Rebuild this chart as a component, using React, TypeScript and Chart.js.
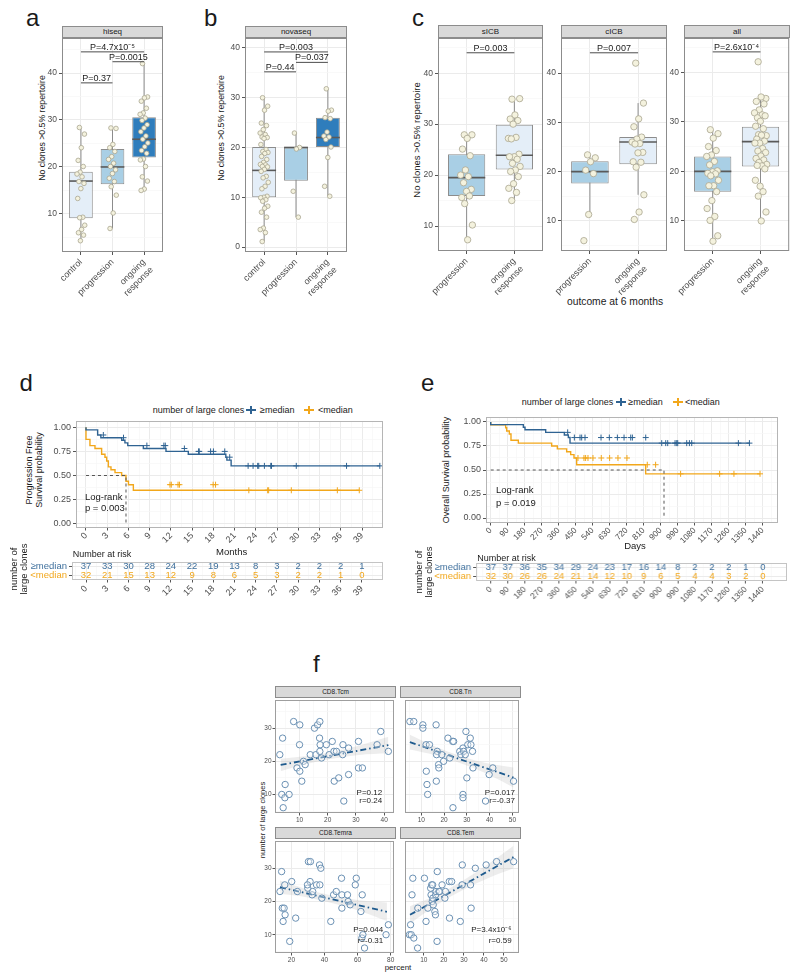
import React, { useEffect, useRef } from 'react';
import { Chart, registerables } from 'chart.js';

const FONT = '"Liberation Sans", Arial, Helvetica, sans-serif';
const BLUE = '#2f6392';
const ORANGE = '#f2a71b';
const TBLUE = '#3f709d';

/* ======================= DATA ======================= */
// ---- Panel a : hiseq ----
const abcGroups = ['control', 'progression', 'ongoing response'];
const hiseqControl = [28.4, 27.0, 24.1, 21.4, 20.1, 18.9, 18.5, 17.9, 16.9, 16.5, 15.4, 13.3, 9.3, 9.2, 7.6, 6.7, 6.0, 5.5, 4.3];
const hiseqProgression = [28.3, 28.2, 24.8, 24.1, 23.3, 22.2, 21.6, 20.8, 20.1, 19.4, 18.6, 17.6, 16.9, 15.8, 14.0, 10.2, 6.9];
const hiseqOngoing = [42.0, 34.9, 34.7, 34.0, 32.5, 31.5, 31.2, 30.4, 29.9, 29.0, 28.3, 27.5, 26.6, 25.9, 25.1, 24.3, 23.5, 22.9, 21.7, 21.5, 20.1, 17.9, 17.0, 15.3, 15.0];
// [lower whisker, Q1, median, Q3, upper whisker]
const hiseqControlBox = [4.3, 9.1, 17.0, 19.0, 28.4];
const hiseqProgressionBox = [6.9, 16.3, 20.0, 23.8, 28.3];
const hiseqOngoingBox = [15.0, 22.0, 25.9, 30.6, 42.0];
const hiseqPText = ['P=0.37', 'P=4.7x10⁻⁵', 'P=0.0015'];
const hiseqPFrom = [1, 1, 2];
const hiseqPTo = [2, 3, 3];
const hiseqPY = [37.9, 44.5, 42.4];

// ---- Panel b : novaseq ----
const novaControl = [30.0, 28.3, 27.5, 24.9, 24.4, 23.6, 22.9, 22.6, 22.1, 22.0, 21.8, 20.6, 19.6, 19.2, 19.0, 18.8, 18.2, 17.6, 17.0, 16.6, 16.5, 16.2, 16.1, 15.6, 15.2, 14.2, 13.9, 13.0, 12.2, 11.7, 10.2, 10.0, 9.9, 9.5, 9.2, 8.2, 7.8, 7.0, 6.0, 3.8, 3.5, 2.9, 1.1];
const novaProgression = [22.9, 20.0, 19.7, 11.2, 6.0];
const novaOngoing = [31.8, 27.5, 27.3, 26.0, 25.8, 23.1, 22.3, 22.1, 21.6, 20.1, 18.0, 12.2, 10.2];
const novaControlBox = [1.1, 10.0, 15.4, 20.1, 30.0];
const novaProgressionBox = [6.0, 13.3, 20.0, 20.0, 22.9];
const novaOngoingBox = [10.2, 20.1, 22.0, 26.0, 31.8];
const novaPText = ['P=0.44', 'P=0.003', 'P=0.037'];
const novaPFrom = [1, 1, 2];
const novaPTo = [2, 3, 3];
const novaPY = [35.2, 39.2, 37.1];

// ---- Panel c : outcome at 6 months ----
const cGroups = ['progression', 'ongoing response'];
const sicbProgression = [27.9, 27.9, 27.2, 25.1, 23.8, 21.0, 20.0, 19.7, 18.5, 17.2, 16.8, 15.6, 15.9, 14.4, 10.2, 7.3];
const sicbOngoing = [34.9, 35.0, 31.8, 31.0, 30.7, 30.0, 27.2, 27.4, 27.1, 24.1, 23.6, 23.6, 23.1, 22.3, 21.7, 21.0, 20.7, 19.7, 18.3, 17.4, 16.6, 15.0];
const sicbProgressionBox = [7.3, 15.9, 19.5, 24.1, 27.9];
const sicbOngoingBox = [15.0, 21.1, 23.9, 29.9, 35.0];
const cicbProgression = [23.4, 22.8, 22.0, 20.3, 19.6, 11.3, 6.0];
const cicbOngoing = [42.0, 33.9, 30.7, 29.1, 27.0, 26.6, 26.0, 25.7, 25.6, 23.9, 23.8, 22.0, 21.9, 20.9, 15.3, 11.8, 10.3];
const cicbProgressionBox = [11.3, 17.6, 20.0, 22.1, 23.4];
const cicbOngoingBox = [15.3, 21.5, 26.0, 27.0, 33.9];
const allProgression = [28.4, 27.6, 26.7, 25.0, 24.2, 23.3, 23.0, 22.0, 21.3, 20.1, 19.9, 19.6, 19.5, 19.1, 18.2, 17.1, 17.1, 15.9, 14.1, 12.5, 10.9, 10.1, 7.0, 5.9];
const allOngoing = [42.1, 34.7, 35.0, 34.1, 33.6, 32.4, 31.8, 31.4, 30.8, 31.2, 30.1, 29.1, 28.6, 27.4, 27.2, 27.3, 26.5, 26.1, 25.7, 25.7, 24.6, 24.1, 23.8, 23.1, 22.6, 22.3, 21.8, 21.4, 21.1, 21.2, 20.5, 17.0, 18.2, 15.9, 15.0, 11.8, 10.0];
const allProgressionBox = [5.9, 15.9, 20.0, 23.0, 28.4];
const allOngoingBox = [10.0, 21.0, 26.0, 29.0, 35.0];
const cPText = ['P=0.003', 'P=0.007', 'P=2.6x10⁻⁴'];
const cPY = [44.0, 44.1, 44.1];

// ---- Panel d : PFS ----
const monthTicks = [0, 3, 6, 9, 12, 15, 18, 21, 24, 27, 30, 33, 36, 39];
const pfsHighTimes = [0, 1.65, 2.1, 5.05, 5.5, 5.9, 8.1, 11.3, 14.45, 19.75, 19.9, 20.5, 21.2, 41.5];
const pfsHighSurv = [1, 0.973, 0.92, 0.892, 0.865, 0.838, 0.81, 0.78, 0.75, 0.72, 0.69, 0.66, 0.6, 0.6];
const pfsHighCensor = [2.45, 5.3, 8.6, 11.0, 11.2, 13.9, 15.9, 16.0, 17.6, 18.0, 19.6, 20.3, 22.9, 23.6, 24.25, 24.4, 25.2, 26.1, 26.2, 29.7, 36.8, 41.5];
const pfsLowTimes = [0, 0.56, 1.27, 2.21, 2.68, 2.92, 3.16, 3.53, 4.1, 5.04, 5.65, 6.0, 6.69, 19.4, 38.6];
const pfsLowSurv = [1, 0.875, 0.81, 0.78, 0.72, 0.69, 0.65, 0.59, 0.56, 0.53, 0.5, 0.44, 0.405, 0.347, 0.347];
const pfsLowCensor = [11.86, 12.05, 13.0, 13.2, 17.96, 18.3, 23.0, 25.66, 25.8, 29.0, 35.5, 38.6];
const pfsMedianTime = 5.65;
const pfsRiskHigh = [37, 33, 30, 28, 24, 22, 19, 13, 8, 3, 2, 2, 2, 1];
const pfsRiskLow = [32, 21, 15, 13, 12, 9, 8, 6, 5, 3, 2, 2, 1, 0];

// ---- Panel e : OS ----
const dayTicks = [0, 90, 180, 270, 360, 450, 540, 630, 720, 810, 900, 990, 1080, 1170, 1260, 1350, 1440];
const osHighTimes = [0, 172.8, 181.6, 291, 389.8, 411, 419.8, 846.8, 1372.7];
const osHighSurv = [1, 0.973, 0.946, 0.919, 0.892, 0.865, 0.838, 0.78, 0.78];
const osHighCensor = [407.5, 442.8, 472.8, 481.6, 499.3, 584, 628, 670.6, 705.9, 741.2, 750, 820.6, 905.3, 926.5, 937, 975.9, 984.7, 990, 1037.6, 1051.8, 1064.1, 1311.2, 1369.5];
const osLowTimes = [0, 79.2, 84.5, 98.6, 107.4, 146.3, 322.7, 352.7, 402.1, 423.3, 440.9, 455, 820.3, 917.4, 1425.6];
const osLowSurv = [1, 0.97, 0.94, 0.906, 0.875, 0.81, 0.78, 0.75, 0.72, 0.69, 0.66, 0.625, 0.555, 0.46, 0.46];
const osLowCensor = [462, 493.7, 502.5, 514.9, 541.3, 585.4, 629.5, 673.6, 721.2, 828.8, 873, 1005.3, 1211.8, 1287.6, 1425.6];
const osMedianTime = 917.4;
const osRiskHigh = [37, 37, 36, 35, 34, 29, 24, 23, 17, 16, 14, 8, 2, 2, 2, 1, 0];
const osRiskLow = [32, 30, 26, 26, 24, 21, 14, 12, 10, 9, 6, 5, 4, 4, 3, 2, 0];

// ---- Panel f : correlations ----
const tcmX = [3.0, 4.0, 4.9, 3.7, 4.8, 4.2, 6.3, 7.9, 9.1, 10.1, 10.0, 10.1, 10.8, 11.4, 12.0, 13.8, 15.3, 15.8, 16.4, 17.2, 17.1, 17.3, 17.2, 17.8, 19.5, 20.5, 21.6, 22.2, 23.1, 22.3, 23.9, 25.3, 25.4, 25.7, 27.4, 27.4, 30.9, 30.9, 32.3, 37.5, 38.8, 41.5];
const tcmY = [22, 27, 13, 10, 9, 6, 10, 32, 18, 31, 25, 17, 14, 20, 19, 22, 30, 22, 31, 32, 27, 25, 23, 21, 25, 22, 26, 23, 23, 14, 15, 22, 25, 8, 24, 16, 26, 18, 18, 25, 29, 23];
const tcmFitX = [3.3, 41.5];
const tcmFitY = [18.9, 24.9];
const tcmBandX = [3.3, 12, 21, 31, 41.5];
const tcmBandLo = [17.0, 19.1, 20.7, 21.9, 22.4];
const tcmBandHi = [20.8, 21.5, 22.7, 24.7, 27.4];

const tnX = [5.0, 6.7, 10.7, 10.7, 12.1, 13.6, 12.2, 12.5, 12.8, 16.5, 17.0, 16.7, 17.6, 17.7, 16.6, 19.0, 19.8, 21.7, 22.5, 23.8, 24.2, 23.9, 26.9, 27.4, 28.3, 28.6, 29.6, 30.4, 31.5, 31.8, 32.5, 29.3, 30.0, 28.3, 28.3, 32.7, 38.2, 39.8, 41.4, 50.5];
const tnY = [32, 32, 31, 30, 25, 25, 17, 13, 10, 31, 23, 22, 19, 18, 14, 22, 20, 27, 21, 26, 26, 6, 23, 22, 24, 23, 29, 25, 27, 25, 23, 22, 15, 10, 9, 18, 8, 16, 18, 14];
const tnFitX = [5.0, 50.5];
const tnFitY = [25.8, 15.1];
const tnBandX = [5, 16, 27, 39, 50.5];
const tnBandLo = [23.6, 21.9, 19.5, 16.2, 12.1];
const tnBandHi = [28.0, 24.5, 21.7, 19.4, 18.1];

const temraX = [13.1, 14.1, 14.5, 15.0, 15.6, 16.0, 16.2, 19.0, 20.2, 22.6, 23.6, 29.9, 30.3, 31.5, 31.3, 29.7, 32.5, 32.9, 35.2, 37.0, 37.8, 37.2, 38.4, 43.8, 45.5, 47.1, 50.3, 50.5, 50.5, 53.9, 54.3, 55.5, 58.6, 59.2, 62.0, 62.8, 62.6, 63.2, 64.2, 77.2, 78.6];
const temraY = [23, 29, 18, 14, 18, 25, 16, 8, 26, 15, 23, 24, 32, 32, 26, 25, 22, 23, 25, 31, 30, 25, 21, 14, 22, 23, 27, 22, 18, 22, 20, 19, 25, 27, 17, 22, 9, 10, 6, 10, 13];
const temraFitX = [13.1, 77.7];
const temraFitY = [24.3, 16.9];
const temraBandX = [13.1, 29, 45, 61, 77.7];
const temraBandLo = [22.3, 21.3, 19.5, 17.2, 14.1];
const temraBandHi = [26.3, 23.7, 21.7, 20.4, 19.7];

const temX = [2.8, 3.4, 3.7, 4.1, 4.5, 5.0, 6.9, 7.0, 10.3, 11.1, 12.0, 13.4, 13.9, 14.4, 13.6, 14.2, 14.5, 14.7, 15.5, 15.8, 15.9, 16.1, 16.6, 16.7, 17.5, 17.9, 19.1, 20.5, 20.8, 22.7, 23.9, 22.8, 28.2, 29.2, 29.1, 33.3, 33.6, 35.7, 41.1, 46.3, 54.8];
const temY = [10, 13, 10, 22, 27, 9, 6, 18, 27, 14, 18, 24, 25, 25, 22, 20, 21, 19, 17, 16, 22, 23, 8, 29, 23, 23, 25, 21, 23, 26, 26, 15, 14, 31, 25, 25, 18, 30, 31, 32, 32];
const temFitX = [3.1, 54.8];
const temFitY = [16.0, 33.4];
const temBandX = [3.1, 16, 29, 42, 54.8];
const temBandLo = [13.4, 18.8, 23.3, 27.0, 30.0];
const temBandHi = [18.6, 21.8, 26.1, 31.2, 36.8];

const fStats = ['P=0.12', 'r=0.24', 'P=0.017', 'r=-0.37', 'P=0.044', 'r=-0.31', 'P=3.4x10⁻⁶', 'r=0.59'];

/* ======================= PLUGINS ======================= */
const textPlugin = {
  id: 'texts',
  afterDatasetsDraw(chart: any, _a: any, opts: any) {
    const items = opts && opts.items;
    if (!items) return;
    const ctx = chart.ctx;
    ctx.save();
    for (const t of items) {
      const px = chart.scales.x.getPixelForValue(t.x) + (t.dx || 0);
      const py = chart.scales.y.getPixelForValue(t.y) + (t.dy || 0);
      ctx.font = `${t.size || 9}px ${FONT}`;
      ctx.fillStyle = t.color || '#1a1a1a';
      ctx.textAlign = t.align || 'center';
      ctx.textBaseline = t.baseline || 'middle';
      ctx.fillText(t.text, px, py);
    }
    ctx.restore();
  },
};

const framePlugin = {
  id: 'frame',
  afterDraw(chart: any, _a: any, opts: any) {
    if (!opts || !opts.color) return;
    const a = chart.chartArea;
    const ctx = chart.ctx;
    ctx.save();
    ctx.strokeStyle = opts.color;
    ctx.lineWidth = 1;
    ctx.strokeRect(a.left + 0.5, a.top + 0.5, a.right - a.left - 1, a.bottom - a.top - 1);
    ctx.restore();
  },
};

Chart.register(...registerables, textPlugin, framePlugin);

/* ======================= HELPERS ======================= */
function mids(arr: number[], min: number, max: number) {
  const step = arr[1] - arr[0];
  const out: number[] = [];
  for (let v = arr[0] - step / 2; v <= arr[arr.length - 1] + step; v += step) {
    if (v > min && v < max) out.push(v);
  }
  return out;
}

function jitterOffset(k: number, w: number) {
  const f = (k * 0.6180339887 + 0.31) % 1;
  return (f - 0.5) * 2 * w;
}

function survAt(T: number[], S: number[], t: number) {
  let v = S[0];
  for (let i = 0; i < T.length; i++) if (T[i] <= t) v = S[i];
  return v;
}

function axis(isX: boolean, a: any) {
  const major = new Set(a.major);
  const all = [...a.major, ...(a.minor || [])].sort((p: number, q: number) => p - q);
  const isMajor = (c: any) => c && c.tick && major.has(c.tick.value);
  return {
    type: 'linear',
    position: isX ? 'bottom' : 'left',
    min: a.min,
    max: a.max,
    bounds: 'data',
    reverse: !!a.reverse,
    offset: false,
    afterBuildTicks: (s: any) => {
      s.ticks = all.map((v: number) => ({ value: v }));
    },
    afterFit: (s: any) => {
      if (isX) s.height = a.fit;
      else s.width = a.fit;
      s.paddingLeft = 0;
      s.paddingRight = 0;
      s.paddingTop = 0;
      s.paddingBottom = 0;
    },
    grid: {
      display: true,
      offset: false,
      color: (c: any) => (isMajor(c) ? a.gridMajor || '#ebebeb' : a.gridMinor || '#f6f6f6'),
      lineWidth: (c: any) => (isMajor(c) ? 1 : 0.7),
      drawTicks: a.tickLen !== 0,
      tickLength: a.tickLen === undefined ? 3 : a.tickLen,
      tickWidth: 1,
      tickColor: (c: any) => (isMajor(c) ? '#555555' : 'rgba(0,0,0,0)'),
    },
    border: { display: false },
    ticks: {
      display: a.showLabels !== false,
      autoSkip: false,
      maxRotation: a.rotate || 0,
      minRotation: a.rotate || 0,
      padding: a.pad === undefined ? 2 : a.pad,
      color: a.color || '#4d4d4d',
      font: { family: FONT, size: a.size || 8 },
      callback: (v: number) => (major.has(v) ? (a.label ? a.label(v) : String(v)) : ''),
    },
  };
}

function basePlugins(items: any[], frame: string) {
  return { legend: { display: false }, tooltip: { enabled: false }, texts: { items }, frame: { color: frame } };
}

function boxConfig(o: any) {
  const n = o.names.length;
  const half = o.bw / 2;
  const ds: any[] = [];
  o.stats.forEach((s: number[], i: number) => {
    ds.push({ type: 'line', data: [{ x: i + 1, y: s[0] }, { x: i + 1, y: s[4] }], borderColor: '#8c8c8c', borderWidth: 1, pointRadius: 0, order: 9 });
  });
  ds.push({
    type: 'bar',
    data: o.stats.map((s: number[], i: number) => ({ x: i + 1, y: [s[1], s[3]] })),
    backgroundColor: o.fills,
    borderColor: '#8c8c8c',
    borderWidth: 1,
    borderSkipped: false,
    barPercentage: o.bw,
    categoryPercentage: 1,
    order: 8,
  });
  o.stats.forEach((s: number[], i: number) => {
    ds.push({ type: 'line', data: [{ x: i + 1 - half, y: s[2] }, { x: i + 1 + half, y: s[2] }], borderColor: '#5a5a5a', borderWidth: 1.6, pointRadius: 0, order: 7 });
  });
  o.points.forEach((p: number[], i: number) => {
    ds.push({
      type: 'scatter',
      data: p.map((v: number, k: number) => ({ x: i + 1 + jitterOffset(k, o.jw), y: v })),
      pointRadius: o.pr,
      backgroundColor: '#f4f2de',
      borderColor: '#a9a690',
      borderWidth: 0.8,
      order: 6,
    });
  });
  const items: any[] = [];
  o.pFrom.forEach((a: number, j: number) => {
    ds.push({ type: 'line', data: [{ x: a, y: o.pY[j] }, { x: o.pTo[j], y: o.pY[j] }], borderColor: '#4d4d4d', borderWidth: 1, pointRadius: 0, order: 1 });
    items.push({ x: (a + o.pTo[j]) / 2, y: o.pY[j], text: o.pText[j], size: 9, baseline: 'alphabetic', dy: -2 });
  });
  return {
    type: 'bar',
    data: { datasets: ds },
    options: {
      scales: {
        x: axis(true, { min: 0.4, max: n + 0.6, major: o.names.map((_: any, i: number) => i + 1), fit: o.xh, size: 9, rotate: 45, label: (v: number) => o.names[v - 1].split(' ') }),
        y: axis(false, { min: o.yMin, max: o.yMax, major: o.yMajor, minor: o.yMinor, fit: o.yw, size: 8.5 }),
      },
      plugins: basePlugins(items, '#8c8c8c'),
    },
  };
}

function kmConfig(o: any) {
  const step = (T: number[], S: number[]) => T.map((t, i) => ({ x: t, y: S[i] }));
  const cens = (T: number[], S: number[], C: number[]) => C.map((c) => ({ x: c, y: survAt(T, S, c) }));
  return {
    type: 'line',
    data: {
      datasets: [
        { data: step(o.lowT, o.lowS), stepped: 'after', borderColor: ORANGE, borderWidth: 1.4, pointRadius: 0, order: 5 },
        { data: step(o.highT, o.highS), stepped: 'after', borderColor: BLUE, borderWidth: 1.4, pointRadius: 0, order: 4 },
        { type: 'scatter', data: cens(o.lowT, o.lowS, o.lowC), pointStyle: 'cross', pointRadius: 3, borderColor: ORANGE, borderWidth: 1, order: 3 },
        { type: 'scatter', data: cens(o.highT, o.highS, o.highC), pointStyle: 'cross', pointRadius: 3, borderColor: BLUE, borderWidth: 1, order: 2 },
        { data: [{ x: 0, y: 0.5 }, { x: o.medT, y: 0.5 }, { x: o.medT, y: 0 }], borderColor: '#555555', borderWidth: 1, borderDash: [3, 3], pointRadius: 0, order: 1 },
      ],
    },
    options: {
      scales: {
        x: axis(true, { min: o.xMin, max: o.xMax, major: o.ticks, minor: mids(o.ticks, o.xMin, o.xMax), fit: o.xh, size: o.xSize, rotate: 45, pad: 0, tickLen: 2.5 }),
        y: axis(false, { min: o.yMin, max: o.yMax, major: [0, 0.25, 0.5, 0.75, 1], minor: [0.125, 0.375, 0.625, 0.875], fit: 30, size: 9, label: (v: number) => v.toFixed(2) }),
      },
      plugins: basePlugins(
        [
          { x: o.logX, y: o.logY1, text: 'Log-rank', align: 'left', size: 9.5 },
          { x: o.logX, y: o.logY2, text: o.pText, align: 'left', size: 9.5 },
        ],
        '#b5b5b5'
      ),
    },
  };
}

function riskConfig(o: any) {
  const items: any[] = [];
  o.times.forEach((t: number, i: number) => {
    items.push({ x: t, y: 1, text: String(o.high[i]), color: TBLUE, size: 9.5 });
    items.push({ x: t, y: 2, text: String(o.low[i]), color: ORANGE, size: 9.5 });
  });
  return {
    type: 'scatter',
    data: { datasets: [{ data: [] }] },
    options: {
      scales: {
        x: axis(true, { min: o.xMin, max: o.xMax, major: o.times, minor: mids(o.times, o.xMin, o.xMax), fit: o.xh, size: o.xSize, rotate: 45, pad: 1, tickLen: 2.5 }),
        y: axis(false, {
          min: 0.45,
          max: 2.5,
          reverse: true,
          major: [1, 2],
          fit: o.yw,
          size: 9.5,
          label: (v: number) => (v === 1 ? '≥median' : '<median'),
          color: (c: any) => (c.tick && c.tick.value === 1 ? TBLUE : ORANGE),
        }),
      },
      plugins: basePlugins(items, '#c4c4c4'),
    },
  };
}

function facetConfig(o: any) {
  const band = (ys: number[]) => o.bandX.map((x: number, i: number) => ({ x, y: ys[i] }));
  return {
    type: 'scatter',
    data: {
      datasets: [
        { type: 'line', data: band(o.bandHi), borderColor: 'rgba(0,0,0,0)', borderWidth: 1, pointRadius: 0, fill: false, cubicInterpolationMode: 'monotone', order: 5 },
        { type: 'line', data: band(o.bandLo), borderColor: 'rgba(0,0,0,0)', borderWidth: 1, pointRadius: 0, fill: '-1', backgroundColor: 'rgba(175,175,175,0.22)', cubicInterpolationMode: 'monotone', order: 4 },
        { type: 'line', data: o.fitX.map((x: number, i: number) => ({ x, y: o.fitY[i] })), borderColor: '#1f5b8e', borderWidth: 1.8, borderDash: [6, 3, 1.5, 3], pointRadius: 0, order: 3 },
        { data: o.px.map((x: number, i: number) => ({ x, y: o.py[i] })), pointRadius: 3.2, borderColor: '#6a90b3', backgroundColor: 'rgba(255,255,255,0.35)', borderWidth: 1, order: 1 },
      ],
    },
    options: {
      scales: {
        x: axis(true, { min: o.xMin, max: o.xMax, major: o.xMajor, minor: mids(o.xMajor, o.xMin, o.xMax), fit: 11, size: 6.5, tickLen: 2.5, pad: 1 }),
        y: axis(false, {
          min: o.yMin,
          max: o.yMax,
          major: [10, 20, 30],
          minor: [5, 15, 25, 35],
          fit: o.yLabels ? 13 : 0,
          size: 6.5,
          tickLen: o.yLabels ? 2.5 : 0,
          pad: 1,
          showLabels: o.yLabels,
        }),
      },
      plugins: basePlugins(
        [
          { x: o.tx, y: o.ty1, text: o.t1, align: 'right', size: 8 },
          { x: o.tx, y: o.ty2, text: o.t2, align: 'right', size: 8 },
        ],
        '#9e9e9e'
      ),
    },
  };
}

/* ======================= COMPONENTS ======================= */
function ChartCanvas({ geo, make }: any) {
  const ref = useRef<HTMLCanvasElement | null>(null);
  const tp = geo.tp === undefined ? 5 : geo.tp;
  const rp = geo.rp === undefined ? 5 : geo.rp;
  const left = geo.x0 - geo.yw;
  const top = geo.y0 - tp;
  const w = geo.x1 - left + rp;
  const h = geo.y1 - top + geo.xh;
  useEffect(() => {
    const cfg: any = make();
    cfg.options = Object.assign({}, cfg.options, {
      responsive: false,
      maintainAspectRatio: false,
      animation: false,
      devicePixelRatio: 1,
      events: [],
      layout: { padding: { top: tp, right: rp, left: 0, bottom: 0 } },
    });
    const c = new Chart(ref.current as HTMLCanvasElement, cfg);
    return () => c.destroy();
  }, []);
  return <canvas ref={ref} width={w} height={h} style={{ position: 'absolute', left, top, width: w, height: h }} />;
}

function T({ x, y, size, children, anchor = 'start', rotate = 0, color = '#1a1a1a', lh = 1.15, align = 'left' }: any) {
  const tx = anchor === 'middle' ? '-50%' : anchor === 'end' ? '-100%' : '0';
  return (
    <div
      style={{
        position: 'absolute',
        left: x,
        top: y,
        fontSize: size,
        lineHeight: lh,
        color,
        whiteSpace: 'pre',
        textAlign: align,
        transform: `translate(${tx}, -50%)${rotate ? ` rotate(${rotate}deg)` : ''}`,
      }}
    >
      {children}
    </div>
  );
}

function Strip({ x0, x1, y0, y1, text, size }: any) {
  return (
    <div
      style={{
        position: 'absolute',
        left: x0,
        top: y0,
        width: x1 - x0,
        height: y1 - y0,
        boxSizing: 'border-box',
        background: '#d9d9d9',
        border: '1px solid #8c8c8c',
        fontSize: size,
        lineHeight: `${y1 - y0 - 2}px`,
        textAlign: 'center',
        color: '#1a1a1a',
      }}
    >
      {text}
    </div>
  );
}

function Key({ x, y, color }: any) {
  const X = Math.round(x);
  const Y = Math.round(y);
  return (
    <>
      <div style={{ position: 'absolute', left: X, top: Y - 1, width: 10, height: 2, background: color }} />
      <div style={{ position: 'absolute', left: X + 4, top: Y - 4, width: 2, height: 8, background: color }} />
    </>
  );
}

/* ======================= APP ======================= */
export default function App() {
  const fillsABC = ['#e4eef8', '#a9cfe5', '#2f7dbc'];
  const fillsC = ['#a9cfe5', '#e4eef8'];
  return (
    <div style={{ position: 'absolute', left: 0, top: 0, width: 800, height: 980, overflow: 'hidden', background: '#ffffff', fontFamily: FONT, color: '#1a1a1a' }}>
      {/* panel letters */}
      <T x={26} y={17.7} size={24}>a</T>
      <T x={204} y={17.7} size={24}>b</T>
      <T x={412} y={18.4} size={24}>c</T>
      <T x={19.5} y={383.4} size={24}>d</T>
      <T x={421} y={383.4} size={24}>e</T>
      <T x={313} y={663.7} size={24}>f</T>

      {/* ---- a ---- */}
      <Strip x0={62} x1={163} y0={26} y1={38} text="hiseq" size={8} />
      <T x={42} y={128} size={8.7} anchor="middle" rotate={-90}>No clones &gt;0.5% repertoire</T>
      <ChartCanvas
        geo={{ x0: 62, y0: 38, x1: 163, y1: 252, yw: 20, xh: 48 }}
        make={() =>
          boxConfig({
            names: abcGroups,
            stats: [hiseqControlBox, hiseqProgressionBox, hiseqOngoingBox],
            points: [hiseqControl, hiseqProgression, hiseqOngoing],
            fills: fillsABC,
            bw: 0.75,
            jw: 0.13,
            pr: 2.3,
            yMin: 1.9,
            yMax: 47.45,
            yMajor: [10, 20, 30, 40],
            yMinor: [5, 15, 25, 35, 45],
            pText: hiseqPText,
            pFrom: hiseqPFrom,
            pTo: hiseqPTo,
            pY: hiseqPY,
            xh: 48,
            yw: 20,
          })
        }
      />

      {/* ---- b ---- */}
      <Strip x0={245} x1={347} y0={26} y1={38} text="novaseq" size={8} />
      <T x={221} y={128} size={8.7} anchor="middle" rotate={-90}>No clones &gt;0.5% repertoire</T>
      <ChartCanvas
        geo={{ x0: 245, y0: 38, x1: 347, y1: 252, yw: 20, xh: 48 }}
        make={() =>
          boxConfig({
            names: abcGroups,
            stats: [novaControlBox, novaProgressionBox, novaOngoingBox],
            points: [novaControl, novaProgression, novaOngoing],
            fills: fillsABC,
            bw: 0.75,
            jw: 0.13,
            pr: 2.3,
            yMin: -1.0,
            yMax: 42.0,
            yMajor: [0, 10, 20, 30, 40],
            yMinor: [5, 15, 25, 35],
            pText: novaPText,
            pFrom: novaPFrom,
            pTo: novaPTo,
            pY: novaPY,
            xh: 48,
            yw: 20,
          })
        }
      />

      {/* ---- c ---- */}
      <Strip x0={438} x1={543} y0={25} y1={38} text="sICB" size={8} />
      <Strip x0={561} x1={667} y0={25} y1={38} text="cICB" size={8} />
      <Strip x0={684} x1={790} y0={25} y1={38} text="all" size={8} />
      <T x={416.5} y={139.5} size={9.5} anchor="middle" rotate={-90}>No clones &gt;0.5% repertoire</T>
      <T x={615} y={301.5} size={10.3} anchor="middle">outcome at 6 months</T>
      <ChartCanvas
        geo={{ x0: 438, y0: 38, x1: 543, y1: 251, yw: 20, xh: 48 }}
        make={() =>
          boxConfig({
            names: cGroups,
            stats: [sicbProgressionBox, sicbOngoingBox],
            points: [sicbProgression, sicbOngoing],
            fills: fillsC,
            bw: 0.78,
            jw: 0.13,
            pr: 3.2,
            yMin: 5.1,
            yMax: 46.9,
            yMajor: [10, 20, 30, 40],
            yMinor: [15, 25, 35, 45],
            pText: [cPText[0]],
            pFrom: [1],
            pTo: [2],
            pY: [cPY[0]],
            xh: 48,
            yw: 20,
          })
        }
      />
      <ChartCanvas
        geo={{ x0: 561, y0: 38, x1: 667, y1: 251, yw: 20, xh: 48 }}
        make={() =>
          boxConfig({
            names: cGroups,
            stats: [cicbProgressionBox, cicbOngoingBox],
            points: [cicbProgression, cicbOngoing],
            fills: fillsC,
            bw: 0.78,
            jw: 0.13,
            pr: 3.2,
            yMin: 3.9,
            yMax: 47.1,
            yMajor: [10, 20, 30, 40],
            yMinor: [5, 15, 25, 35, 45],
            pText: [cPText[1]],
            pFrom: [1],
            pTo: [2],
            pY: [cPY[1]],
            xh: 48,
            yw: 20,
          })
        }
      />
      <ChartCanvas
        geo={{ x0: 684, y0: 38, x1: 790, y1: 251, yw: 20, xh: 48, rp: 4 }}
        make={() =>
          boxConfig({
            names: cGroups,
            stats: [allProgressionBox, allOngoingBox],
            points: [allProgression, allOngoing],
            fills: fillsC,
            bw: 0.78,
            jw: 0.13,
            pr: 3.2,
            yMin: 3.93,
            yMax: 46.9,
            yMajor: [10, 20, 30, 40],
            yMinor: [5, 15, 25, 35, 45],
            pText: [cPText[2]],
            pFrom: [1],
            pTo: [2],
            pY: [cPY[2]],
            xh: 48,
            yw: 20,
          })
        }
      />

      {/* ---- d ---- */}
      <T x={152.7} y={410} size={9}>number of large clones</T>
      <Key x={246} y={410} color={BLUE} />
      <T x={260} y={410} size={9}>≥median</T>
      <Key x={304} y={410} color={ORANGE} />
      <T x={318} y={410} size={9}>&lt;median</T>
      <T x={35} y={470} size={9} anchor="middle" rotate={-90} align="center" lh={1.1}>{'Progression Free\nSurvival probability'}</T>
      <ChartCanvas
        geo={{ x0: 76, y0: 421, x1: 383, y1: 528, yw: 30, xh: 18, tp: 6, rp: 6 }}
        make={() =>
          kmConfig({
            highT: pfsHighTimes,
            highS: pfsHighSurv,
            highC: pfsHighCensor,
            lowT: pfsLowTimes,
            lowS: pfsLowSurv,
            lowC: pfsLowCensor,
            medT: pfsMedianTime,
            xMin: -1.41,
            xMax: 41.95,
            ticks: monthTicks,
            xh: 18,
            xSize: 9,
            yMin: -0.044,
            yMax: 1.065,
            logX: -0.15,
            logY1: 0.278,
            logY2: 0.155,
            pText: 'p = 0.003',
          })
        }
      />
      <T x={231.7} y={552} size={9.5} anchor="middle">Months</T>
      <T x={72.7} y={554} size={9}>Number at risk</T>
      <T x={18.7} y={569} size={9.5} anchor="middle" rotate={-90} align="center" lh={1.1}>{'number of\nlarge clones'}</T>
      <ChartCanvas
        geo={{ x0: 72, y0: 562, x1: 383.3, y1: 580, yw: 42, xh: 18, tp: 3, rp: 6 }}
        make={() => riskConfig({ times: monthTicks, high: pfsRiskHigh, low: pfsRiskLow, xMin: -1.98, xMax: 42.0, xh: 18, yw: 42, xSize: 9 })}
      />

      {/* ---- e ---- */}
      <T x={521.7} y={401.7} size={9}>number of large clones</T>
      <Key x={616} y={402} color={BLUE} />
      <T x={628.3} y={401.7} size={9}>≥median</T>
      <Key x={673} y={402} color={ORANGE} />
      <T x={685} y={401.7} size={9}>&lt;median</T>
      <T x={446.3} y={469.5} size={9} anchor="middle" rotate={-90}>Overall Survival probability</T>
      <ChartCanvas
        geo={{ x0: 486, y0: 417, x1: 778, y1: 523, yw: 30, xh: 20, tp: 6, rp: 8 }}
        make={() =>
          kmConfig({
            highT: osHighTimes,
            highS: osHighSurv,
            highC: osHighCensor,
            lowT: osLowTimes,
            lowS: osLowSurv,
            lowC: osLowCensor,
            medT: osMedianTime,
            xMin: -24.9,
            xMax: 1520.8,
            ticks: dayTicks,
            xh: 20,
            xSize: 8.3,
            yMin: -0.052,
            yMax: 1.052,
            logX: 28,
            logY1: 0.283,
            logY2: 0.148,
            pText: 'p = 0.019',
          })
        }
      />
      <T x={635} y={546} size={9.5} anchor="middle">Days</T>
      <T x={477.3} y={558} size={9}>Number at risk</T>
      <T x={424.2} y={571.7} size={9.5} anchor="middle" rotate={-90} align="center" lh={1.1}>{'number of\nlarge clones'}</T>
      <ChartCanvas
        geo={{ x0: 476, y0: 563, x1: 786.7, y1: 581, yw: 42, xh: 24, tp: 3, rp: 8 }}
        make={() => riskConfig({ times: dayTicks, high: osRiskHigh, low: osRiskLow, xMin: -77.9, xMax: 1568, xh: 24, yw: 42, xSize: 8.3 })}
      />

      {/* ---- f ---- */}
      <Strip x0={275} x1={396} y0={686} y1={698} text="CD8.Tcm" size={6.5} />
      <Strip x0={400} x1={521} y0={686} y1={698} text="CD8.Tn" size={6.5} />
      <Strip x0={275} x1={396} y0={827} y1={839} text="CD8.Temra" size={6.5} />
      <Strip x0={400} x1={521} y0={827} y1={839} text="CD8.Tem" size={6.5} />
      <T x={262.5} y={820} size={7.5} anchor="middle" rotate={-90}>number of large clones</T>
      <T x={398} y={968} size={8} anchor="middle">percent</T>
      <ChartCanvas
        geo={{ x0: 275, y0: 698, x1: 396, y1: 813, yw: 13, xh: 11, tp: 3, rp: 3 }}
        make={() =>
          facetConfig({
            px: tcmX, py: tcmY, bandX: tcmBandX, bandLo: tcmBandLo, bandHi: tcmBandHi, fitX: tcmFitX, fitY: tcmFitY,
            xMin: 1.3, xMax: 43.5, xMajor: [10, 20, 30, 40], yMin: 4.4, yMax: 38.5, yLabels: true,
            tx: 39.3, ty1: 10.6, ty2: 8.1, t1: fStats[0], t2: fStats[1],
          })
        }
      />
      <ChartCanvas
        geo={{ x0: 400, y0: 698, x1: 521, y1: 813, yw: 0, xh: 11, tp: 3, rp: 3 }}
        make={() =>
          facetConfig({
            px: tnX, py: tnY, bandX: tnBandX, bandLo: tnBandLo, bandHi: tnBandHi, fitX: tnFitX, fitY: tnFitY,
            xMin: 2.85, xMax: 52.9, xMajor: [10, 20, 30, 40, 50], yMin: 4.4, yMax: 38.5, yLabels: false,
            tx: 51.1, ty1: 10.6, ty2: 8.1, t1: fStats[2], t2: fStats[3],
          })
        }
      />
      <ChartCanvas
        geo={{ x0: 275, y0: 839, x1: 396, y1: 953, yw: 13, xh: 11, tp: 3, rp: 3 }}
        make={() =>
          facetConfig({
            px: temraX, py: temraY, bandX: temraBandX, bandLo: temraBandLo, bandHi: temraBandHi, fitX: temraFitX, fitY: temraFitY,
            xMin: 10.1, xMax: 82, xMajor: [20, 40, 60, 80], yMin: 4.5, yMax: 38.2, yLabels: true,
            tx: 75.5, ty1: 11.5, ty2: 8.3, t1: fStats[4], t2: fStats[5],
          })
        }
      />
      <ChartCanvas
        geo={{ x0: 400, y0: 839, x1: 521, y1: 953, yw: 0, xh: 11, tp: 3, rp: 3 }}
        make={() =>
          facetConfig({
            px: temX, py: temY, bandX: temBandX, bandLo: temBandLo, bandHi: temBandHi, fitX: temFitX, fitY: temFitY,
            xMin: 0.6, xMax: 57.5, xMajor: [10, 20, 30, 40, 50], yMin: 4.5, yMax: 38.2, yLabels: false,
            tx: 53.8, ty1: 11.5, ty2: 8.3, t1: fStats[6], t2: fStats[7],
          })
        }
      />
    </div>
  );
}
